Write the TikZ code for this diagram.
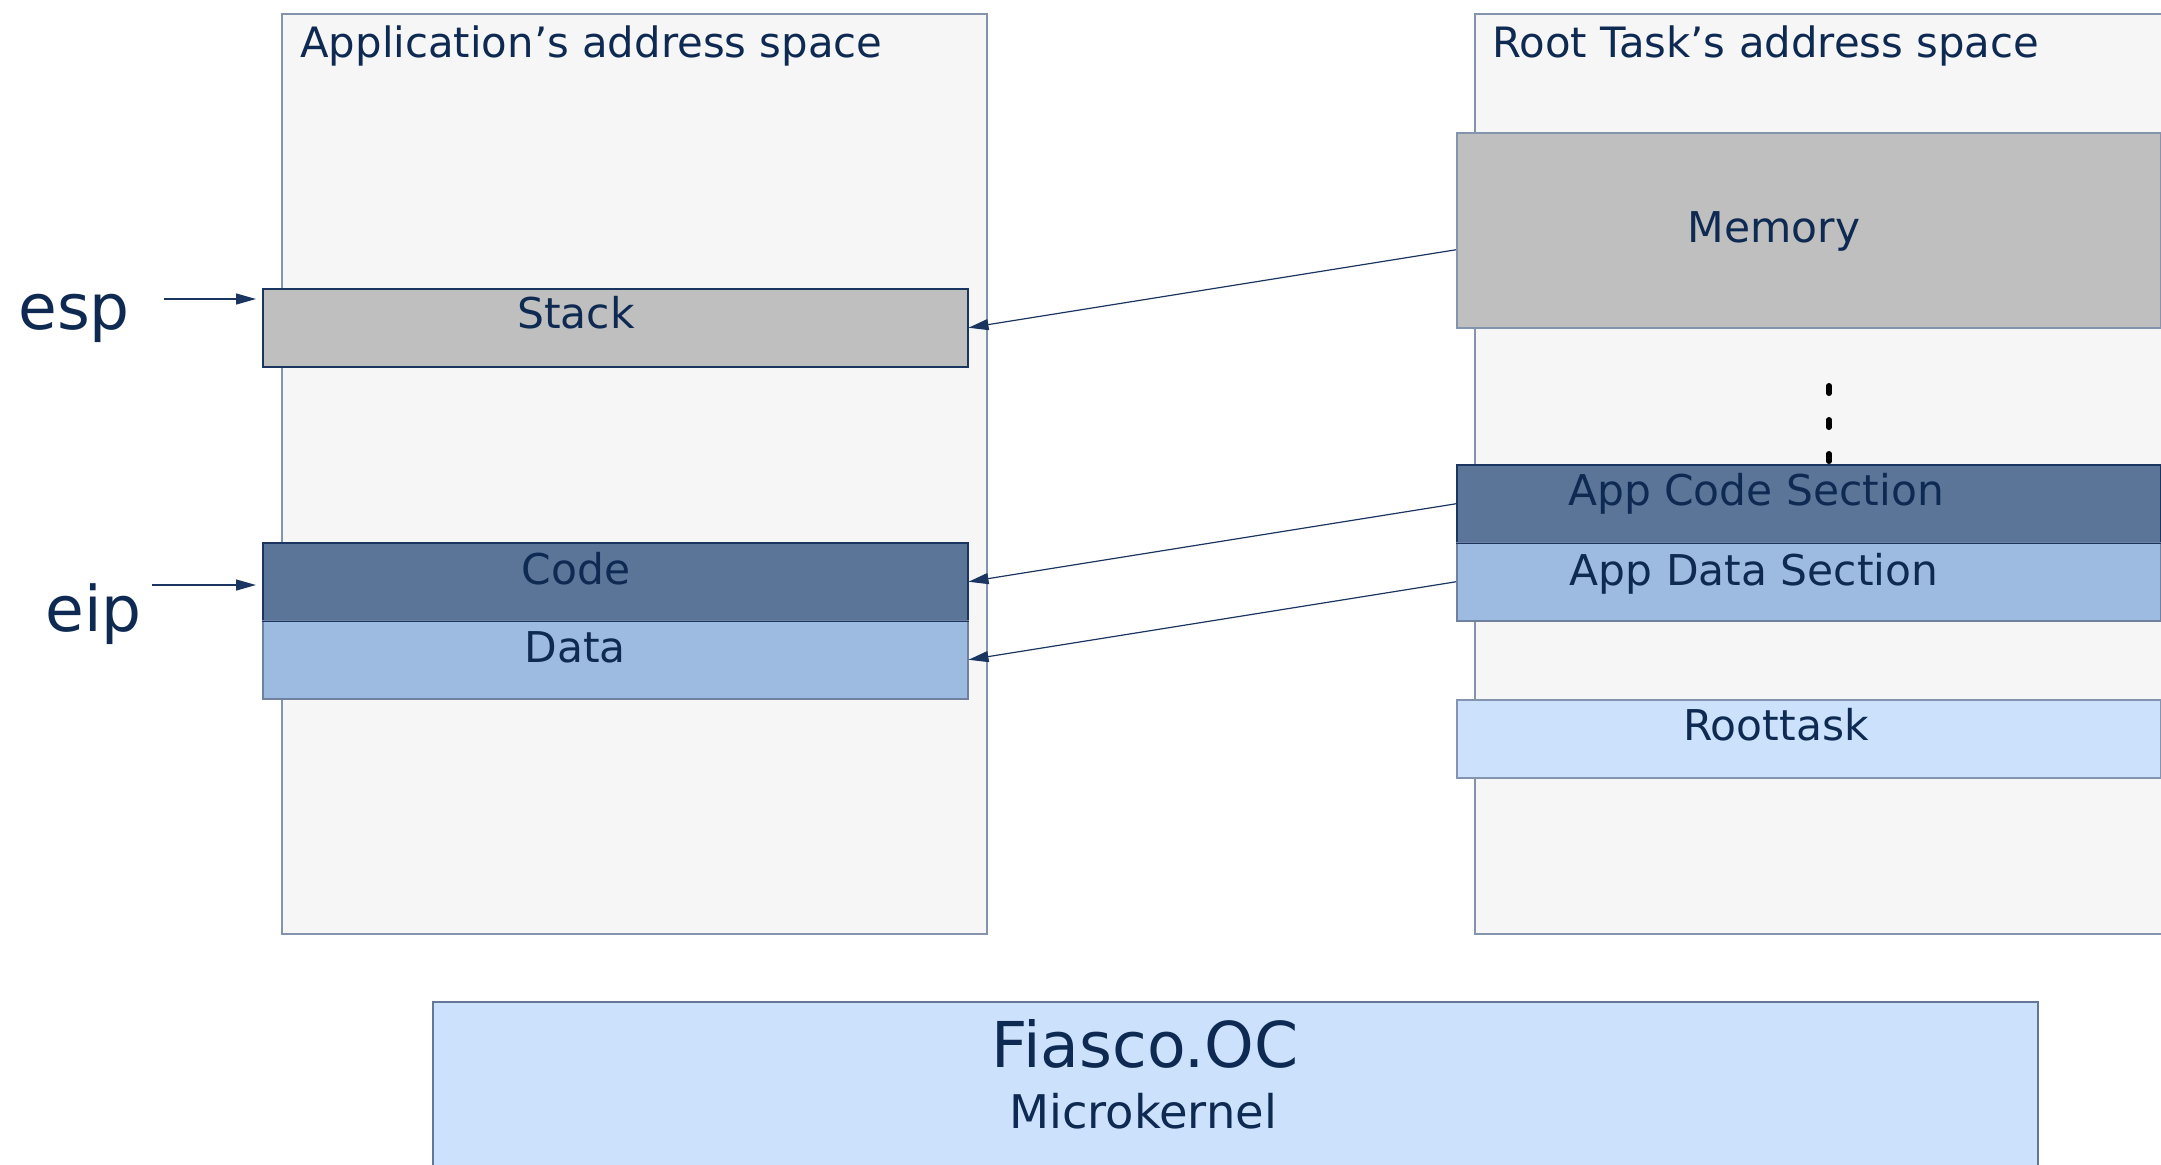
\documentclass[tikz,border=0pt]{standalone}
\usepackage{fontspec}
\setmainfont{DejaVu Sans}
\usetikzlibrary{arrows.meta}
\definecolor{txt}{HTML}{0E2A52}
\definecolor{spacefill}{HTML}{F6F6F6}
\definecolor{spaceborder}{HTML}{8494AE}
\definecolor{stackfill}{HTML}{BFBFBF}
\definecolor{codefill}{HTML}{5A7598}
\definecolor{datafill}{HTML}{9DBBE0}
\definecolor{rootfill}{HTML}{CCE1FB}
\definecolor{navy}{HTML}{1A3560}
\tikzset{
  space/.style={draw=spaceborder, fill=spacefill, line width=0.75pt},
  seg/.style={draw=navy, line width=0.75pt, rectangle, inner sep=0pt, anchor=north west},
  lbl/.style={text=txt, inner sep=0pt, font=\fontsize{21.2}{25}\selectfont},
  conn/.style={draw=navy, line width=0.6pt, -{Triangle[length=10pt,width=5.5pt]}},
}
\begin{document}
\begin{tikzpicture}[x=0.5pt,y=-0.5pt]
\useasboundingbox (0,0) rectangle (2161,1164);
\clip (0,0) rectangle (2161,1164);
% address spaces
\path[space] (282,14) rectangle (987,934);
\path[space] (1475,14) rectangle (2185,934);
\node[lbl, anchor=base west, font=\fontsize{20.9}{25}\selectfont] (apptitle) at (300,57) {Application’s address space};
\node[lbl, anchor=base west, font=\fontsize{20.9}{25}\selectfont] (roottitle) at (1492,57) {Root Task’s address space};
% left segments
\node[seg, fill=stackfill, minimum width=352.5pt, minimum height=39pt] (stack) at (262,288) {};
\node[seg, fill=codefill, minimum width=352.5pt, minimum height=39pt] (code) at (262,542) {};
\node[seg, fill=datafill, draw=spaceborder!80!navy, minimum width=352.5pt, minimum height=39pt] (data) at (262,620) {};
\draw[navy, line width=0.75pt] (code.south west) -- (code.south east);
\node[lbl, anchor=base] (stacktxt) at (576,328) {Stack};
\node[lbl, anchor=base] (codetxt) at (576,584) {Code};
\node[lbl, anchor=base] (datatxt) at (575,662) {Data};
% right segments
\node[seg, fill=stackfill, draw=spaceborder, minimum width=352pt, minimum height=97.5pt] (mem) at (1456,132) {};
\node[seg, fill=codefill, minimum width=352pt, minimum height=39pt] (appcode) at (1456,464) {};
\node[seg, fill=datafill, draw=spaceborder!80!navy, minimum width=352pt, minimum height=39pt] (appdata) at (1456,542) {};
\draw[navy, line width=0.75pt] (appcode.south west) -- (appcode.south east);
\node[seg, fill=rootfill, draw=spaceborder, minimum width=352pt, minimum height=39pt] (roottask) at (1456,699) {};
\node[lbl, anchor=base] (memtxt) at (1774,242) {Memory};
\node[lbl, anchor=base] (appcodetxt) at (1756,505) {App Code Section};
\node[lbl, anchor=base] (appdatatxt) at (1754,585) {App Data Section};
\node[lbl, anchor=base] (roottasktxt) at (1776,740) {Roottask};
% dots
\coordinate (dtop) at (1829,385.75);
\draw[black, line width=2.75pt, line cap=round, dash pattern=on 3.75pt off 13.25pt] (dtop) -- (appcode.north -| dtop);
% arrows
\draw[conn] ([yshift=-9.75pt]mem.west) -- (stack.east);
\draw[conn] (appcode.west) -- (code.east);
\draw[conn] (appdata.west) -- (data.east);
% registers
\node[lbl, anchor=base west, font=\fontsize{31.5}{36}\selectfont] (esp) at (18,329) {esp};
\node[lbl, anchor=base west, font=\fontsize{31.5}{36}\selectfont] (eip) at (45,631) {eip};
\coordinate (esptail) at (164,299);
\coordinate (esptip) at (256,299);
\coordinate (eiptail) at (152,585);
\coordinate (eiptip) at (256,585);
\draw[conn] (esptail) -- (esptip);
\draw[conn] (eiptail) -- (eiptip);
% kernel
\path[draw=spaceborder!70!navy, fill=rootfill, line width=0.75pt] (433,1002) rectangle (2038,1200);
\node[lbl, anchor=base, font=\fontsize{31.6}{36}\selectfont] (fiasco) at (1145,1067) {Fiasco.OC};
\node[lbl, anchor=base, font=\fontsize{23.2}{28}\selectfont] (micro) at (1143,1128) {Microkernel};
\end{tikzpicture}
\end{document}
